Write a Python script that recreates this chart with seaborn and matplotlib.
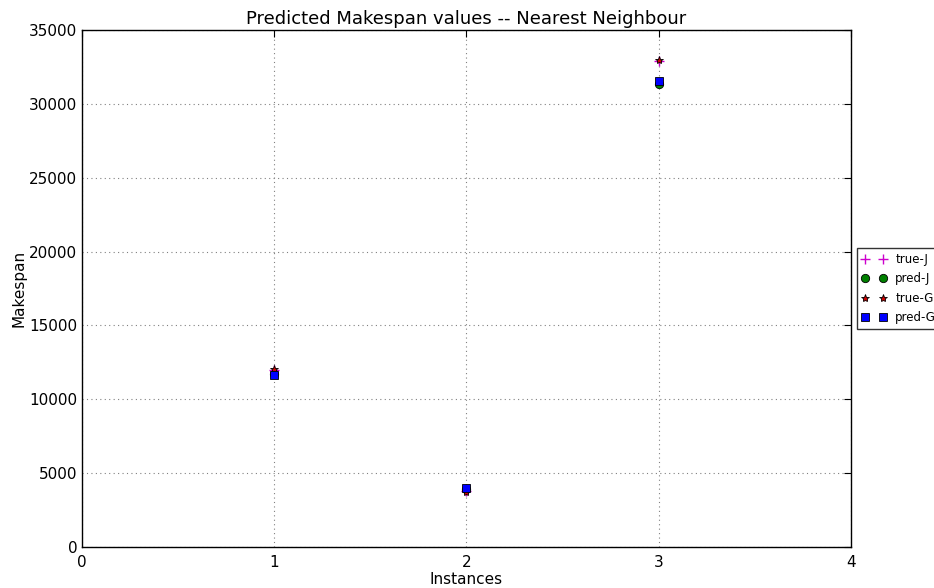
import matplotlib
matplotlib.use("Agg")
import matplotlib.pyplot as plt
import seaborn as sns
import pandas as pd

instances = [1, 2, 3]
true_j = [12000, 3800, 32900]
pred_j = [11700, 3950, 31350]
true_g = [12050, 3750, 32950]
pred_g = [11650, 4000, 31550]
labels = ["true-J", "pred-J", "true-G", "pred-G"]

sns.set_style("white")
plt.rcParams['font.family'] = ['DejaVu Sans']
plt.rcParams.update({"text.color": "black", "axes.labelcolor": "black",
                     "xtick.color": "black", "ytick.color": "black"})

fig = plt.figure(figsize=(9.34, 5.88), dpi=100)
ax = fig.add_axes([0.0878, 0.0697, 0.8233, 0.8793])

styles = [
    (true_j, "+", "#cc00cc", 7, "#cc00cc", 1.0),
    (pred_j, "o", "green", 6, "black", 0.6),
    (true_g, "*", "#cc0000", 6, "black", 0.6),
    (pred_g, "s", "blue", 6, "black", 0.6),
]
for (vals, mk, col, ms, ec, mew), lab in zip(styles, labels):
    df = pd.DataFrame({"x": instances, "y": vals})
    sns.lineplot(data=df, x="x", y="y", marker=mk, color=col, markersize=ms,
                 markeredgecolor=ec, markeredgewidth=mew, linestyle="",
                 label=lab, ax=ax, zorder=3)

ax.set_xlim(0, 4)
ax.set_ylim(0, 35000)
ax.set_xticks([0, 1, 2, 3, 4])
ax.set_yticks(range(0, 35001, 5000))
ax.grid(True, linestyle=(0, (1, 3)), color="gray", linewidth=0.8)
ax.tick_params(direction="in", length=5, labelsize=11, top=True, right=True,
               colors="black")
ax.tick_params(axis="x", pad=6)
for sp in ax.spines.values():
    sp.set_color("black")
    sp.set_linewidth(1)
ax.set_xlabel("Instances", fontsize=11, labelpad=1, color="black")
ax.set_ylabel("Makespan", fontsize=11, labelpad=2, color="black")
ax.set_title("Predicted Makespan values -- Nearest Neighbour", fontsize=13, pad=4,
             color="black")
leg = ax.legend(loc="center left", bbox_to_anchor=(1.0078, 0.5), numpoints=2,
                fontsize=8.5, frameon=True, fancybox=False, edgecolor="black",
                borderpad=0.42, labelspacing=0.55, handletextpad=0.72,
                handlelength=2.1, borderaxespad=0, labelcolor="black")
leg.get_frame().set_linewidth(1)

fig.savefig("out.png", dpi=100)
